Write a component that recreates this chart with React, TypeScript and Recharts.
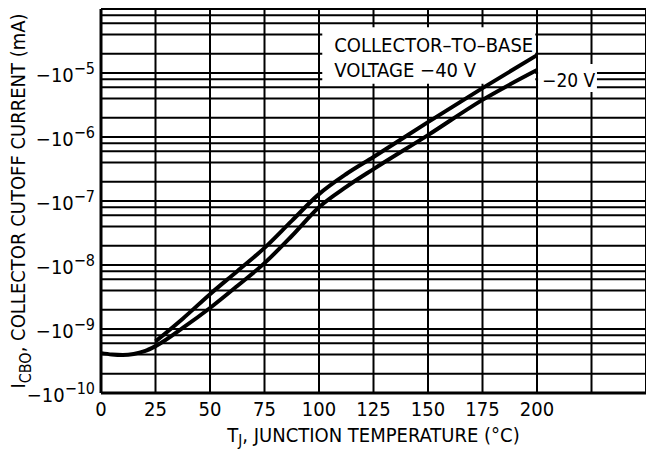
import React from 'react';
import { LineChart, Line, XAxis, YAxis, CartesianGrid, ReferenceArea, Label } from 'recharts';

// -40 V collector-to-base (upper curve), mA magnitudes
const temps40 = [25, 37.5, 50, 62.5, 75, 87.5, 100, 112.5, 125, 150, 175, 200];
const icbo40 = [6.4e-10, 1.45e-9, 3.5e-9, 8.0e-9, 1.85e-8, 4.9e-8, 1.28e-7, 2.64e-7, 4.87e-7, 1.71e-6, 5.8e-6, 1.9e-5];

// -20 V (lower curve)
const temps20 = [0, 5, 10, 15, 20, 25, 37.5, 50, 62.5, 75, 87.5, 100, 112.5, 125, 150, 175, 200];
const icbo20 = [4.2e-10, 4.0e-10, 3.93e-10, 4.07e-10, 4.5e-10, 5.4e-10, 1.04e-9, 2.13e-9, 4.7e-9, 1.07e-8, 2.84e-8, 8.0e-8, 1.66e-7, 3.15e-7, 1.07e-6, 3.8e-6, 1.11e-5];

const xTicks = [0, 25, 50, 75, 100, 125, 150, 175, 200, 225, 250];
const yTicks = [1e-10, 1e-9, 1e-8, 1e-7, 1e-6, 1e-5];
const decades = [1e-10, 1e-9, 1e-8, 1e-7, 1e-6, 1e-5];
const gridMultipliers = [1, 2, 4, 6, 8];

const FONT = "'Liberation Sans Narrow', 'DejaVu Sans Condensed', 'Liberation Sans', sans-serif";

const data40 = temps40.map((t, i) => ({ t, v: icbo40[i] }));
const data20 = temps20.map((t, i) => ({ t, v: icbo20[i] }));
const hGrid = [...decades.flatMap((d) => gridMultipliers.map((m) => d * m)), 1e-4];

const YTick = (props: any) => {
  const { x, y, payload } = props;
  const exp = Math.round(Math.log10(payload.value));
  return (
    <text x={x} y={y} dy={9} textAnchor="end" fontFamily={FONT} fontSize={20} fill="#000">
      −10
      <tspan dy={-8} fontSize={16}>{`−${Math.abs(exp)}`}</tspan>
    </text>
  );
};

const BoxText40 = (props: any) => {
  const { x, y } = props.viewBox;
  return (
    <text fontFamily={FONT} fontSize={20} fill="#000">
      <tspan x={x + 12} y={y + 25}>COLLECTOR–TO–BASE</tspan>
      <tspan x={x + 12} y={y + 50}>VOLTAGE −40 V</tspan>
    </text>
  );
};

const BoxText20 = (props: any) => {
  const { x, y } = props.viewBox;
  return (
    <text x={x + 4} y={y + 23} fontFamily={FONT} fontSize={19} fill="#000">
      −20 V
    </text>
  );
};

const YTitle = (props: any) => {
  const { viewBox } = props;
  const cx = 25;
  const cy = viewBox.y + viewBox.height / 2;
  return (
    <text x={cx} y={cy} transform={`rotate(-90, ${cx}, ${cy})`} textAnchor="middle" fontFamily={FONT} fontSize={20} fill="#000">
      I
      <tspan dy={6} fontSize={16}>CBO</tspan>
      <tspan dy={-6}>, COLLECTOR CUTOFF CURRENT (mA)</tspan>
    </text>
  );
};

const XTitle = (props: any) => {
  const { viewBox } = props;
  const cx = viewBox.x + viewBox.width / 2;
  return (
    <text x={cx} y={442} textAnchor="middle" fontFamily={FONT} fontSize={20} fill="#000">
      T
      <tspan dy={4} fontSize={15}>J</tspan>
      <tspan dy={-4}>, JUNCTION TEMPERATURE (°C)</tspan>
    </text>
  );
};

export default function App() {
  return (
    <div style={{ position: 'absolute', left: 0, top: 0, width: 646, height: 452, overflow: 'hidden', background: '#fff' }}>
      <LineChart width={646} height={452} margin={{ top: 9, right: 0, bottom: 0, left: 0 }}>
        <CartesianGrid stroke="#000" strokeWidth={2} horizontalValues={hGrid} verticalValues={xTicks} />
        <XAxis
          type="number"
          dataKey="t"
          domain={[0, 250]}
          ticks={xTicks}
          interval={0}
          height={59}
          tickLine={false}
          tickSize={9}
          tickMargin={0}
          tickFormatter={(v: number) => (v > 200 ? '' : String(v))}
          tick={{ fill: '#000', fontFamily: FONT, fontSize: 20 }}
          axisLine={{ stroke: '#000', strokeWidth: 3 }}
        >
          <Label content={<XTitle />} />
        </XAxis>
        <YAxis
          type="number"
          scale="log"
          domain={[1e-10, 1e-4]}
          allowDataOverflow
          ticks={yTicks}
          interval={0}
          width={101}
          tickLine={false}
          tickSize={6}
          tickMargin={0}
          tick={<YTick />}
          axisLine={{ stroke: '#000', strokeWidth: 3 }}
        >
          <Label content={<YTitle />} />
        </YAxis>
        <ReferenceArea x1={101.5} x2={199.2} y1={6.8e-6} y2={5.2e-5} fill="#fff" fillOpacity={1} stroke="none" ifOverflow="visible">
          <Label content={<BoxText40 />} />
        </ReferenceArea>
        <ReferenceArea x1={200.5} x2={227.5} y1={5.05e-6} y2={1.38e-5} fill="#fff" fillOpacity={1} stroke="none" ifOverflow="visible">
          <Label content={<BoxText20 />} />
        </ReferenceArea>
        <Line data={data40} dataKey="v" type="monotone" stroke="#000" strokeWidth={4} dot={false} isAnimationActive={false} />
        <Line data={data20} dataKey="v" type="monotone" stroke="#000" strokeWidth={4} dot={false} isAnimationActive={false} />
      </LineChart>
    </div>
  );
}
